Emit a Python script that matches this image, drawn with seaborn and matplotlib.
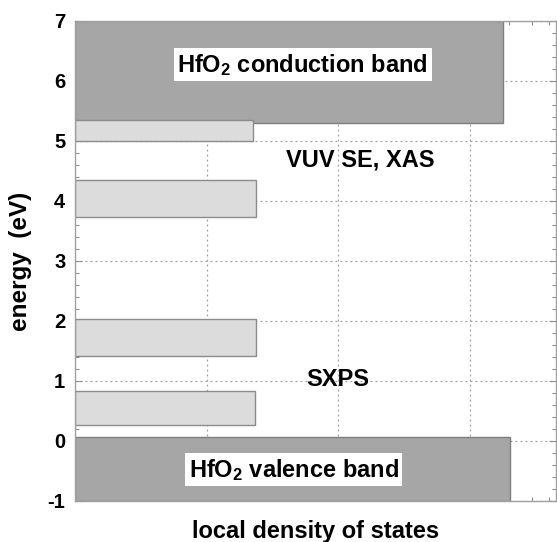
import matplotlib
matplotlib.use("Agg")
import matplotlib.pyplot as plt
import seaborn as sns
import numpy as np
from matplotlib.ticker import FixedLocator, LogLocator, NullFormatter, MultipleLocator

# ---- data ----
band_names = ["HfO2 conduction band", "VUV state 1", "VUV state 2",
              "SXPS state 1", "SXPS state 2", "HfO2 valence band"]
band_bottom = [5.30, 5.00, 3.73, 1.42, 0.27, -1.00]
band_top = [7.00, 5.35, 4.35, 2.03, 0.83, 0.07]
band_dos = [1790, 22.5, 24.0, 24.0, 23.5, 2050]
band_kind = ["band", "defect", "defect", "defect", "defect", "band"]

y_ticks = [-1, 0, 1, 2, 3, 4, 5, 6, 7]
y_ticklabels = ["-1", "0", "1", "2", "3", "4", "5", "6", "7"]

labels_text = ["HfO$_2$ conduction band", "VUV SE, XAS", "SXPS", "HfO$_2$ valence band"]
labels_x = [54, 147, 99, 46]
labels_y = [6.27, 4.68, 1.02, -0.48]
labels_boxed = [True, False, False, True]

# ---- style ----
sns.set_theme(style="white")
plt.rcParams['font.family'] = ['Liberation Sans', 'DejaVu Sans']
plt.rcParams['mathtext.fontset'] = 'custom'
plt.rcParams['mathtext.rm'] = 'Liberation Sans:bold'
plt.rcParams['mathtext.bf'] = 'Liberation Sans:bold'
plt.rcParams['mathtext.default'] = 'bf'
plt.rcParams['text.color'] = 'black'
plt.rcParams['axes.labelcolor'] = 'black'
plt.rcParams['ytick.labelcolor'] = 'black'

fig = plt.figure(figsize=(5.57, 5.42), dpi=100)
ax = fig.add_axes([75/557, 1 - 501/542, 481/557, 480/542])

ax.set_xscale("log")
ax.set_xlim(1, 10 ** (481 / 131.5))
ax.set_ylim(-1, 7)

ax.xaxis.set_major_locator(FixedLocator([10, 100, 1000]))
ax.xaxis.set_minor_locator(LogLocator(base=10, subs=np.arange(2, 10)))
ax.xaxis.set_major_formatter(NullFormatter())
ax.xaxis.set_minor_formatter(NullFormatter())
ax.set_yticks(y_ticks)
ax.set_yticklabels(y_ticklabels)
ax.yaxis.set_minor_locator(MultipleLocator(0.2))

ax.grid(True, which="major", linestyle=(0, (1.5, 2.5)), color="#a0a0a0", linewidth=0.9)
ax.set_axisbelow(True)

colors = {"band": ("#a6a6a6", "#7f7f7f"), "defect": ("#dcdcdc", "#8c8c8c")}
for b, t, d, k in zip(band_bottom, band_top, band_dos, band_kind):
    fc, ec = colors[k]
    ax.barh(y=(b + t) / 2, width=d - 1, height=t - b, left=1,
            color=fc, edgecolor=ec, linewidth=1.0, zorder=2)

for s in ax.spines.values():
    s.set_color("#a0a0a0")
    s.set_linewidth(1.0)

ax.tick_params(axis="both", which="both", direction="in", top=True, right=True,
               left=True, bottom=True, color="#909090")
ax.tick_params(which="major", length=5, width=0.8)
ax.tick_params(which="minor", length=3, width=0.8)
ax.tick_params(axis="y", labelsize=14.5, pad=7, labelcolor="black")
for lbl in ax.get_yticklabels():
    lbl.set_fontweight("bold")

ax.set_ylabel("energy  (eV)", fontsize=17.5, fontweight="bold", labelpad=11, color="black")
ax.set_xlabel("local density of states", fontsize=17, fontweight="bold", labelpad=10, color="black")

for txt, x, y, boxed in zip(labels_text, labels_x, labels_y, labels_boxed):
    kw = dict(fontsize=17, fontweight="bold", ha="center", va="center", zorder=5, color="black")
    if boxed:
        kw["bbox"] = dict(facecolor="white", edgecolor="none", boxstyle="square,pad=0.15")
    ax.text(x, y, txt, **kw)

fig.savefig("out.png", dpi=100)
